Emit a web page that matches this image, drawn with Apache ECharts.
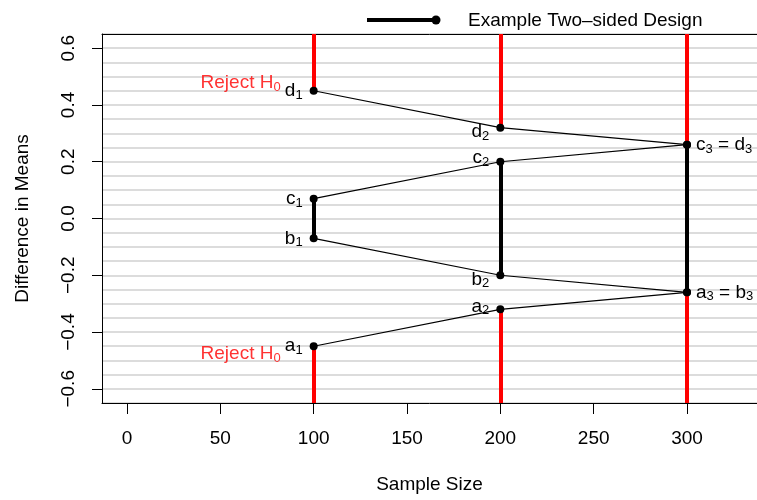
<!DOCTYPE html>
<html><head><meta charset="utf-8">
<script src="https://cdn.jsdelivr.net/npm/echarts@6/dist/echarts.min.js"></script>
<style>html,body{margin:0;padding:0;background:#fff}#c{width:757px;height:500px}</style>
</head><body><div id="c"></div>
<script>
// ---- data ----
const sampleSizes = [100, 200, 300];
const boundA = [-0.45, -0.32, -0.26];
const boundB = [-0.07, -0.20, -0.26];
const boundC = [0.07, 0.20, 0.26];
const boundD = [0.45, 0.32, 0.26];
const xTicks = [0, 50, 100, 150, 200, 250, 300];
const yTicks = [-0.6, -0.4, -0.2, 0, 0.2, 0.4, 0.6];
const yGridStep = 0.05;
const yLimits = [-0.65, 0.65];
const xLimits = [-13.39, 337.5];
const legendText = 'Example Two\u2013sided Design';
const xTitle = 'Sample Size';
const yTitle = 'Difference in Means';
const rejectMain = 'Reject H';
const rejectSub = '0';

// ---- styling ----
const FONT = 'Liberation Sans, Arial, Helvetica, sans-serif';
const FS = 19;
const rich = {
  m: {fontSize: FS, fontFamily: FONT, color: '#000', lineHeight: 22},
  s: {fontSize: 13, fontFamily: FONT, color: '#000', lineHeight: 13, verticalAlign: 'bottom'},
  rm: {fontSize: FS, fontFamily: FONT, color: '#ff0000', lineHeight: 22},
  rs: {fontSize: 13, fontFamily: FONT, color: '#ff0000', lineHeight: 13, verticalAlign: 'bottom'}
};
const sub = (n, k) => `{m|${n}}{s|${k}}`;
// vertical label nudges per stage (px), to mimic staggered labels
const nudge = {a: [0, -3, 0], b: [0, 4, 0], c: [0, -4, 0], d: [0, 4, 0]};

const bounds = {a: boundA, b: boundB, c: boundC, d: boundD};
const last = sampleSizes.length - 1;

function boundSeries(key) {
  const vals = bounds[key];
  return {
    type: 'line', z: 5,
    symbol: 'circle', symbolSize: 8,
    itemStyle: {color: '#000'},
    lineStyle: {color: '#000', width: 1.2},
    animation: false,
    data: sampleSizes.map((x, i) => {
      const item = {value: [x, vals[i]]};
      if (i < last) {
        item.label = {show: true, position: 'left', distance: 7, offset: [0, nudge[key][i]],
          formatter: sub(key, i + 1), rich};
      } else if (key === 'a' || key === 'c') {
        const partner = key === 'a' ? 'b' : 'd';
        item.label = {show: true, position: 'right', distance: 5,
          formatter: sub(key, i + 1) + '{m| = }' + sub(partner, i + 1), rich};
      }
      return item;
    })
  };
}

// thick segments: red rejection regions, black continuation region
const redSegs = [], blackSegs = [];
sampleSizes.forEach((x, i) => {
  const up = i === last ? boundC[i] : boundD[i];
  const lo = boundA[i];
  redSegs.push({coords: [[x, up], [x, yLimits[1]]]});
  redSegs.push({coords: [[x, lo], [x, yLimits[0]]]});
  blackSegs.push({coords: [[x, i === last ? boundA[i] : boundB[i]], [x, boundC[i]]]});
});

const option = {
  animation: false,
  grid: {left: 102, top: 34, right: 0, bottom: 97, show: false},
  xAxis: [{
    type: 'value', min: xLimits[0], max: xLimits[1],
    axisLine: {show: true, onZero: false, lineStyle: {color: '#000', width: 1}},
    axisTick: {show: true, customValues: xTicks, length: 11, lineStyle: {color: '#000'}},
    axisLabel: {customValues: xTicks, margin: 26, fontSize: FS, fontFamily: FONT, color: '#000'},
    splitLine: {show: false},
    name: xTitle, nameLocation: 'middle', nameGap: 72,
    nameTextStyle: {fontSize: FS, fontFamily: FONT, color: '#000'}
  }, {
    type: 'value', position: 'top', min: xLimits[0], max: xLimits[1],
    axisLine: {show: true, onZero: false, lineStyle: {color: '#000', width: 1}},
    axisTick: {show: false}, axisLabel: {show: false}, splitLine: {show: false}
  }],
  yAxis: [{
    type: 'value', min: yLimits[0], max: yLimits[1],
    axisLine: {show: true, onZero: false, lineStyle: {color: '#000', width: 1}},
    axisTick: {show: true, customValues: yTicks, length: 10, lineStyle: {color: '#000'}},
    axisLabel: {customValues: yTicks, rotate: 90, margin: 24, fontSize: FS, fontFamily: FONT, color: '#000',
      formatter: v => (Math.abs(v) < 1e-9 ? 0 : v).toFixed(1).replace('-', '\u2212')},
    splitLine: {show: false},
    name: yTitle, nameLocation: 'middle', nameGap: 70,
    nameTextStyle: {fontSize: FS, fontFamily: FONT, color: '#000'}
  }, {
    type: 'value', position: 'right', min: yLimits[0], max: yLimits[1], interval: yGridStep,
    axisLine: {show: false}, axisTick: {show: false}, axisLabel: {show: false},
    splitLine: {show: true, lineStyle: {color: '#d0d0d0', width: 1.5}}
  }],
  series: [
    {type: 'lines', coordinateSystem: 'cartesian2d', z: 3, data: redSegs,
      lineStyle: {color: '#ff0000', width: 4, opacity: 1, cap: 'butt'}, silent: true},
    {type: 'lines', coordinateSystem: 'cartesian2d', z: 3, data: blackSegs,
      lineStyle: {color: '#000', width: 4, opacity: 1, cap: 'butt'}, silent: true},
    boundSeries('a'), boundSeries('b'), boundSeries('c'), boundSeries('d'),
    {type: 'scatter', z: 6, symbolSize: 0, silent: true,
      data: [
        {value: [sampleSizes[0], boundD[0]], label: {show: true, position: 'left', distance: 33, offset: [0, -8],
          formatter: `{rm|${rejectMain}}{rs|${rejectSub}}`, rich}},
        {value: [sampleSizes[0], boundA[0]], label: {show: true, position: 'left', distance: 33, offset: [0, 8],
          formatter: `{rm|${rejectMain}}{rs|${rejectSub}}`, rich}}
      ]}
  ],
  graphic: [
    {type: 'line', shape: {x1: 367, y1: 20, x2: 436, y2: 20}, style: {stroke: '#000', lineWidth: 4}},
    {type: 'circle', shape: {cx: 436, cy: 20, r: 4.5}, style: {fill: '#000'}},
    {type: 'text', x: 468, y: 21, style: {text: legendText, font: `${FS}px ${FONT}`, fill: '#000',
      textVerticalAlign: 'middle'}}
  ]
};

const chart = echarts.init(document.getElementById('c'), null, {renderer: 'canvas'});
chart.setOption(option);
</script></body></html>
